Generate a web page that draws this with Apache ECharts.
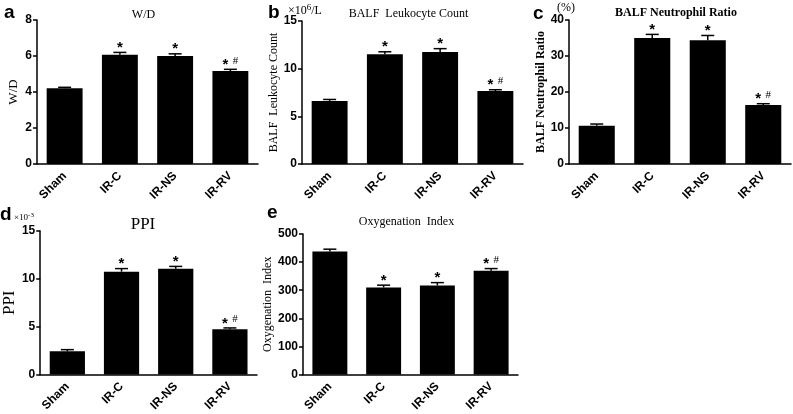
<!DOCTYPE html>
<html><head><meta charset="utf-8">
<script src="https://cdn.jsdelivr.net/npm/echarts@6/dist/echarts.min.js"></script>
<style>html,body{margin:0;padding:0;background:#fff}#c{width:793px;height:414px}</style>
</head><body><div id="c"></div>
<script>
const categories = ['Sham', 'IR-C', 'IR-NS', 'IR-RV'];
const wdValues = [4.21, 6.07, 6.0, 5.16];
const wdErrors = [0.05, 0.13, 0.12, 0.1];
const leukValues = [6.62, 11.5, 11.75, 7.65];
const leukErrors = [0.15, 0.27, 0.35, 0.14];
const neutValues = [10.6, 35.0, 34.4, 16.4];
const neutErrors = [0.5, 1.0, 1.3, 0.35];
const ppiValues = [2.42, 10.75, 11.05, 4.72];
const ppiErrors = [0.18, 0.32, 0.25, 0.15];
const oxyValues = [438, 310, 317, 369];
const oxyErrors = [8, 8, 10, 8];
const sigMarks = ['', '*', '*', '*#'];

const panels = [
  {letter:'a', title:'W/D', yName:'W/D', values:wdValues, errors:wdErrors, max:8, interval:2,
   grid:{left:37, top:20, width:221, height:144}, titleY:15, titleFont:'12px', nameSize:13, nameWeight:'normal', nameGap:17},
  {letter:'b', title:'BALF  Leukocyte Count', yName:'BALF  Leukocyte Count', values:leukValues, errors:leukErrors, max:15, interval:5,
   grid:{left:302, top:21, width:221, height:143}, titleY:14, titleFont:'12px', nameSize:12, nameWeight:'normal', nameGap:19},
  {letter:'c', title:'BALF Neutrophil Ratio', yName:'BALF Neutrophil Ratio', values:neutValues, errors:neutErrors, max:40, interval:10,
   grid:{left:569, top:20, width:222, height:144}, titleY:13, titleFont:'bold 12px', nameSize:12, nameWeight:'bold', nameGap:18},
  {letter:'d', title:'PPI', yName:'PPI', values:ppiValues, errors:ppiErrors, max:15, interval:5,
   grid:{left:37, top:231, width:220, height:145}, titleY:225, titleFont:'17px', nameSize:17, nameWeight:'normal', nameGap:19},
  {letter:'e', title:'Oxygenation  Index', yName:'Oxygenation  Index', values:oxyValues, errors:oxyErrors, max:500, interval:100,
   grid:{left:303, top:234, width:215, height:141}, titleY:222, titleFont:'12px', nameSize:12, nameWeight:'normal', nameGap:25}
];

const grids = [], xAxes = [], yAxes = [], series = [], graphics = [];
panels.forEach((p, i) => {
  grids.push(Object.assign({containLabel:false}, p.grid));
  xAxes.push({
    type:'category', gridIndex:i, data:categories,
    axisLine:{lineStyle:{color:'#000', width:1.5}},
    axisTick:{alignWithLabel:true, length:4, lineStyle:{color:'#000', width:1.5}},
    axisLabel:{rotate:45, color:'#000', fontFamily:'Liberation Sans', fontWeight:'bold', fontSize:12, margin:10, interval:0}
  });
  yAxes.push({
    type:'value', gridIndex:i, min:0, max:p.max, interval:p.interval,
    splitLine:{show:false},
    axisLine:{show:true, lineStyle:{color:'#000', width:1.5}},
    axisTick:{show:true, length:4, lineStyle:{color:'#000', width:1.5}},
    axisLabel:{color:'#000', fontFamily:'Liberation Sans', fontWeight:'bold', fontSize:12, margin:5},
    name:p.yName, nameLocation:'middle', nameRotate:90, nameGap:p.nameGap,
    nameTextStyle:{color:'#000', fontFamily:'Liberation Serif', fontSize:p.nameSize, fontWeight:p.nameWeight}
  });
  series.push({
    type:'bar', xAxisIndex:i, yAxisIndex:i, data:p.values, barWidth:'65%',
    itemStyle:{color:'#000'}, z:2
  });
  const errData = p.values.map((v, k) => [k, v, p.errors[k]]);
  series.push({
    type:'custom', xAxisIndex:i, yAxisIndex:i, data:errData, z:3,
    renderItem:(params, api) => {
      const idx = api.value(0), v = api.value(1), e = api.value(2);
      const mark = sigMarks[idx];
      const base = api.coord([idx, v]);
      const top = api.coord([idx, v + e]);
      const cap = 6.5;
      const children = [
        {type:'line', shape:{x1:base[0], y1:base[1], x2:top[0], y2:top[1]}, style:{stroke:'#000', lineWidth:1.5}},
        {type:'line', shape:{x1:top[0]-cap, y1:top[1], x2:top[0]+cap, y2:top[1]}, style:{stroke:'#000', lineWidth:1.5}}
      ];
      if (mark === '*') {
        children.push({type:'text', x:top[0], y:top[1]+3, style:{text:'*', font:'bold 15px "Liberation Sans"', fill:'#000', align:'center', verticalAlign:'bottom'}});
      } else if (mark === '*#') {
        children.push({type:'text', x:top[0]-5, y:top[1]+3, style:{text:'*', font:'bold 15px "Liberation Sans"', fill:'#000', align:'center', verticalAlign:'bottom'}});
        children.push({type:'text', x:top[0]+5, y:top[1]-3, style:{text:'#', font:'11px "Liberation Serif"', fill:'#000', align:'center', verticalAlign:'bottom'}});
      }
      return {type:'group', children};
    }
  });
  graphics.push({type:'text', x:p.grid.left + p.grid.width/2 - 4, y:p.titleY,
    style:{text:p.title, font:p.titleFont + ' "Liberation Serif"', fill:'#000', align:'center', verticalAlign:'middle'}});
});

const letterPos = [[4,3,'a'],[268,3,'b'],[533,4,'c'],[0,205,'d'],[267,203,'e']];
letterPos.forEach(l => graphics.push({type:'text', x:l[0], y:l[1],
  style:{text:l[2], font:'bold 19px "Liberation Sans"', fill:'#000', align:'left', verticalAlign:'top'}}));

graphics.push({type:'text', x:288, y:3, style:{text:'×10{s|6}/L', font:'12px "Liberation Serif"', fill:'#000', rich:{s:{fontSize:9, fontFamily:'Liberation Serif', padding:[0,0,6,0]}}}});
graphics.push({type:'text', x:557, y:2, style:{text:'(%)', font:'12px "Liberation Serif"', fill:'#000'}});
graphics.push({type:'text', x:14, y:212, style:{text:'×10{s|-3}', font:'9px "Liberation Serif"', fill:'#000', rich:{s:{fontSize:7, fontFamily:'Liberation Serif', padding:[0,0,5,0]}}}});

const chart = echarts.init(document.getElementById('c'), null, {renderer:'canvas'});
chart.setOption({
  animation:false,
  backgroundColor:'#fff',
  grid:grids, xAxis:xAxes, yAxis:yAxes, series:series, graphic:graphics
});
</script></body></html>
